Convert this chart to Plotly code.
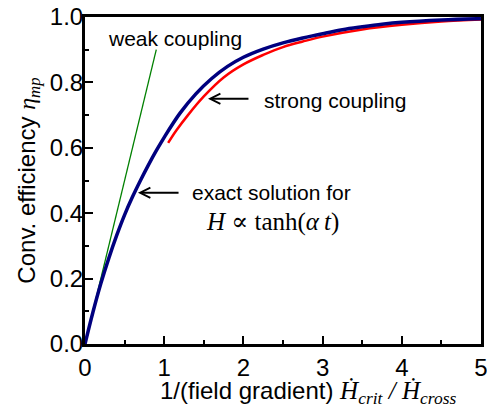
import plotly.graph_objects as go

# ---- data ----
exact_x = [0, 0.1, 0.2, 0.3, 0.4, 0.5, 0.6, 0.7, 0.8, 0.9, 1.0, 1.2, 1.4, 1.6, 1.8,
           2.0, 2.25, 2.5, 2.75, 3.0, 3.25, 3.5, 3.75, 4.0, 4.5, 5.0]
exact_y = [0, 0.097, 0.185, 0.262, 0.332, 0.395, 0.450, 0.500, 0.547, 0.591, 0.632,
           0.706, 0.765, 0.812, 0.849, 0.877, 0.902, 0.921, 0.936, 0.949, 0.961,
           0.970, 0.978, 0.984, 0.991, 0.995]

strong_x = [1.05, 1.15, 1.3, 1.5, 1.75, 2.0, 2.25, 2.5, 2.75, 3.0, 3.5, 4.0, 4.5, 5.0]
strong_y = [0.615, 0.652, 0.700, 0.757, 0.815, 0.855, 0.884, 0.908, 0.925, 0.940,
            0.962, 0.976, 0.986, 0.992]

weak_x = [0, 0.9]
weak_y = [0, 0.9]

x_ticks = [0, 1, 2, 3, 4, 5]
y_ticks = [0.0, 0.2, 0.4, 0.6, 0.8, 1.0]

SANS = "Liberation Sans, Arial, sans-serif"
SERIF = "Liberation Serif, DejaVu Serif, serif"

fig = go.Figure()
fig.add_trace(go.Scatter(x=weak_x, y=weak_y, mode="lines",
                         line=dict(color="#008000", width=1.3), name="weak coupling"))
fig.add_trace(go.Scatter(x=strong_x, y=strong_y, mode="lines", line_shape="spline",
                         line=dict(color="#ff0000", width=2.5), name="strong coupling"))
fig.add_trace(go.Scatter(x=exact_x, y=exact_y, mode="lines", line_shape="spline",
                         line=dict(color="#00007f", width=3.5), name="exact solution"))

axis_common = dict(
    showline=True, linecolor="black", linewidth=3, mirror=True,
    ticks="inside", ticklen=8, tickwidth=2, tickcolor="black",
    showgrid=False, zeroline=False, automargin=False,
    ticklabeloverflow="allow",
    tickfont=dict(family=SANS, size=24, color="black"),
)

fig.update_xaxes(
    range=[0, 5], tickvals=x_ticks, ticktext=[str(v) for v in x_ticks],
    minor=dict(dtick=0.5, ticks="inside", ticklen=4, tickwidth=2, tickcolor="black"),
    **axis_common)
fig.update_yaxes(
    range=[0, 1], tickvals=y_ticks, ticktext=[f"{v:.1f}" for v in y_ticks],
    minor=dict(dtick=0.1, ticks="inside", ticklen=4, tickwidth=2, tickcolor="black"),
    ticklabelstandoff=-6,
    title=dict(
        text=('Conv. efficiency <span style="font-family:Liberation Serif, DejaVu Serif, serif">'
              '<i>η</i><sub><i>mp</i></sub></span>'),
        font=dict(family=SANS, size=24, color="black"), standoff=8),
    **axis_common)

# x-axis title (placed as in the reference, slightly right of centre)
fig.add_annotation(
    x=0.562, y=-0.149, xref="paper", yref="paper", xanchor="center", yanchor="middle",
    text=('1/(field gradient) <span style="font-family:Liberation Serif, DejaVu Serif, serif;font-size:25px">'
          '<i>Ḣ</i><sub><i>crit</i></sub> <i>/</i> <i>Ḣ</i><sub><i>cross</i></sub></span>'),
    showarrow=False, font=dict(family=SANS, size=24, color="black"))

ann_font = dict(family=SANS, size=21, color="black")
fig.add_annotation(x=1.136, y=0.934, xref="x", yref="y", text="weak coupling",
                   showarrow=False, font=ann_font, xanchor="center", yanchor="middle")
fig.add_annotation(x=2.235, y=0.744, xref="x", yref="y", text="strong coupling",
                   showarrow=False, font=ann_font, xanchor="left", yanchor="middle")
fig.add_annotation(x=1.553, y=0.750, ax=2.083, ay=0.750, xref="x", yref="y",
                   axref="x", ayref="y", text="", showarrow=True,
                   arrowhead=5, arrowsize=1, arrowwidth=2, arrowcolor="black")
fig.add_annotation(x=1.326, y=0.4625, xref="x", yref="y", text="exact solution for",
                   showarrow=False, font=ann_font, xanchor="left", yanchor="middle")
fig.add_annotation(x=0.669, y=0.4625, ax=1.20, ay=0.4625, xref="x", yref="y",
                   axref="x", ayref="y", text="", showarrow=True,
                   arrowhead=5, arrowsize=1, arrowwidth=2, arrowcolor="black")
fig.add_annotation(x=2.367, y=0.372, xref="x", yref="y",
                   text="<i>H</i> ∝ tanh(<i>α</i>\u2009<i>t</i>)",
                   showarrow=False, font=dict(family=SERIF, size=25, color="black"),
                   xanchor="center", yanchor="middle")

fig.update_layout(
    width=487, height=409,
    margin=dict(l=85, r=6, t=17, b=65),
    paper_bgcolor="white", plot_bgcolor="white",
    showlegend=False,
)

fig.write_html("out.html", config={"displayModeBar": False},
               post_script="document.body.style.margin='0';document.body.style.overflow='hidden';")
